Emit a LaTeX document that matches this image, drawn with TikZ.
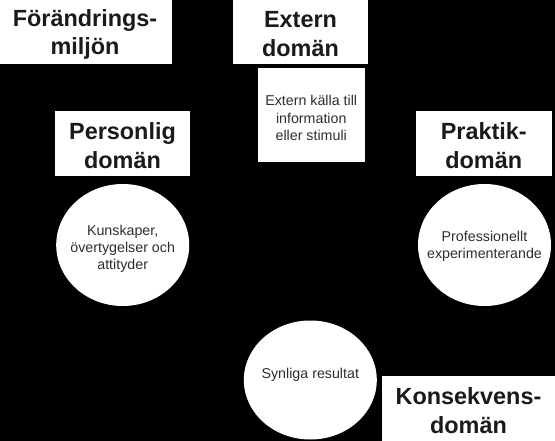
\documentclass[tikz,border=0pt]{standalone}
\usepackage{fontspec}
\setmainfont{Liberation Sans}
\usetikzlibrary{shapes.geometric}
\definecolor{ink}{HTML}{1A1A1A}
\definecolor{softink}{HTML}{2E2E2E}
\tikzset{
  whitebox/.style={rectangle, fill=white, draw=none, inner sep=0pt},
  domaintext/.style={inner sep=0pt, align=center, text=ink,
    font=\fontsize{23.5}{28.5}\selectfont\bfseries},
  infotext/.style={inner sep=0pt, align=center, text=softink,
    font=\fontsize{14.3}{17.2}\selectfont},
  whiteoval/.style={ellipse, fill=white, draw=none, inner sep=0pt,
    minimum width=133bp, minimum height=122bp}
}
\begin{document}
\begin{tikzpicture}[x=1bp,y=-1bp]
\fill[black] (0,0) rectangle (555,441);
\useasboundingbox (0,0) rectangle (555,441);
% domain title boxes
\node[whitebox, minimum width=172bp, minimum height=64bp] (forand) at (86,32) {};
\node[domaintext] (forandt) at (85,34.5) {Förändrings-\\miljön};
\node[whitebox, minimum width=135bp, minimum height=64bp] (extern) at (300.5,32) {};
\node[domaintext] (externt) at (300.5,34) {Extern\\domän};
\node[whitebox, minimum width=135bp, minimum height=65bp] (personlig) at (122.5,143.5) {};
\node[domaintext] (personligt) at (122.5,145.5) {Personlig\\domän};
\node[whitebox, minimum width=135.5bp, minimum height=65bp] (praktik) at (483.75,143.5) {};
\node[domaintext] (praktikt) at (483.75,145.5) {Praktik-\\domän};
\node[whitebox, minimum width=173bp, minimum height=65bp] (konsekvens) at (468.5,408.5) {};
\node[domaintext] (konsekvenst) at (468.5,410.5) {Konsekvens-\\domän};
% content
\node[whitebox, minimum width=106.5bp, minimum height=94bp] (kalla) at (311.25,115) {};
\node[infotext] (kallat) at (311.25,118) {Extern källa till\\information\\eller stimuli};
\node[whiteoval] (kunskap) at (122.7,245) {};
\node[infotext] (kunskapt) at (122.7,249) {Kunskaper,\\övertygelser och\\attityder};
\node[whiteoval] (prof) at (484.5,245) {};
\node[infotext] (proft) at (484.5,246.5) {Professionellt\\experimenterande};
\node[whiteoval, minimum height=119bp] (synliga) at (310.3,380) {};
\node[infotext] (synligat) at (310.3,375) {Synliga resultat};
\end{tikzpicture}
\end{document}
